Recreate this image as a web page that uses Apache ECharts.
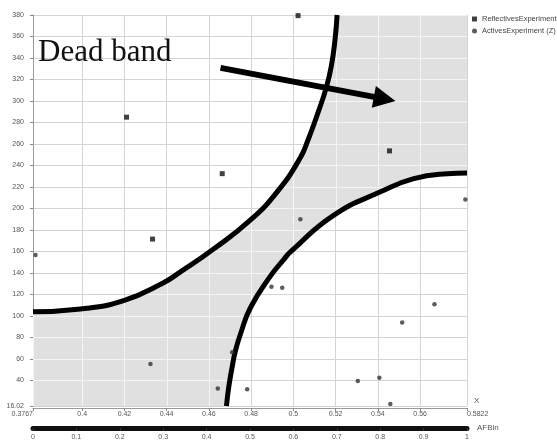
<!DOCTYPE html>
<html>
<head>
<meta charset="utf-8">
<script src="https://cdn.jsdelivr.net/npm/echarts@6/dist/echarts.min.js"></script>
<style>
html,body{margin:0;padding:0;background:#fff;}
#chart{width:557px;height:441px;}
</style>
</head>
<body>
<div id="chart"></div>
<script>
// ---- axis ticks ----
const xTickValues = [0.3767, 0.4, 0.42, 0.44, 0.46, 0.48, 0.5, 0.52, 0.54, 0.56, 0.5822];
const yTickValues = [16.02, 40, 60, 80, 100, 120, 140, 160, 180, 200, 220, 240, 260, 280, 300, 320, 340, 360, 380];
const afbinMin = 0, afbinMax = 1, afbinStep = 0.1;

// ---- dead band boundaries ----
const upperX = [0.3767, 0.3992, 0.4196, 0.4385, 0.4465, 0.4622, 0.4797, 0.4923, 0.5030, 0.5071, 0.5114, 0.5156, 0.5180, 0.5197, 0.5207];
const upperY = [103.7, 106.3, 114.1, 130.8, 140.9, 162.1, 189.2, 215.4, 246.1, 264.6, 287.7, 312.6, 332.9, 356.9, 380];
const lowerX = [0.4683, 0.4694, 0.4710, 0.4726, 0.4749, 0.4797, 0.4891, 0.4953, 0.4986, 0.5190, 0.5412, 0.5570, 0.5728, 0.5822];
const lowerY = [16.02, 33.8, 52.3, 67.7, 82.8, 107.7, 136.9, 152.0, 159.4, 193.5, 215.4, 227.7, 232.3, 233.0];

// ---- scatter series ----
const reflectivesX = [0.5022, 0.4210, 0.4663, 0.4333, 0.5455];
const reflectivesY = [379.4, 284.9, 232.3, 171.4, 253.5];
const activesX = [0.3779, 0.5033, 0.4896, 0.4947, 0.5668, 0.5515, 0.4710, 0.4642, 0.4781, 0.5305, 0.5407, 0.4323, 0.5459, 0.5814];
const activesY = [156.6, 189.8, 127.1, 126.1, 110.7, 93.8, 66.1, 32.3, 31.7, 39.4, 42.4, 55.1, 17.9, 208.3];

// ---- annotation ----
const arrowFrom = [0.4655, 330.8];
const arrowTo = [0.5432, 301.9];
const annotationText = 'Dead band';

const xMin = xTickValues[0], xMax = xTickValues[xTickValues.length - 1];
const yMin = yTickValues[0], yMax = yTickValues[yTickValues.length - 1];

const zip = (xs, ys) => xs.map((x, i) => [x, ys[i]]);
const upperPts = zip(upperX, upperY);
const lowerPts = zip(lowerX, lowerY);
const bandPolygon = upperPts
  .concat([[xMax, yMax]])
  .concat(lowerPts.slice().reverse())
  .concat([[xMin, yMin]]);

const bandColor = '#e0e0e0';
const bandLineColor = '#f4f4f4';
const gridLineColor = '#d4d4d4';
const labelFont = 'Liberation Sans';

function fmt(v, d) { return String(+(+v).toFixed(d)); }

function renderBand(params, api) {
  if (params.dataIndex !== 0) return;
  const pts = bandPolygon.map(p => api.coord(p));
  const lines = [];
  xTickValues.forEach(v => {
    const a = api.coord([v, yMin]), b = api.coord([v, yMax]);
    const x = Math.round(a[0]) + 0.5;
    lines.push({type: 'line', shape: {x1: x, y1: b[1], x2: x, y2: a[1]}, style: {stroke: bandLineColor, lineWidth: 1}});
  });
  yTickValues.forEach(v => {
    const a = api.coord([xMin, v]), b = api.coord([xMax, v]);
    const y = Math.round(a[1]) + 0.5;
    lines.push({type: 'line', shape: {x1: a[0], y1: y, x2: b[0], y2: y}, style: {stroke: bandLineColor, lineWidth: 1}});
  });
  return {
    type: 'group',
    children: [
      {type: 'polygon', shape: {points: pts}, style: {fill: bandColor}},
      {type: 'group', clipPath: {type: 'polygon', shape: {points: pts}}, children: lines}
    ]
  };
}

const chart = echarts.init(document.getElementById('chart'), null, {renderer: 'canvas'});
chart.setOption({
  animation: false,
  backgroundColor: '#fff',
  textStyle: {fontFamily: labelFont},
  grid: {left: 33, right: 90, top: 15, bottom: 32, containLabel: false},
  legend: {
    orient: 'vertical', left: 472, top: 15, padding: 0, itemGap: 4,
    itemWidth: 5, itemHeight: 5,
    textStyle: {fontSize: 7.5, color: '#444', fontFamily: labelFont},
    data: ['ReflectivesExperiment', 'ActivesExperiment (Z)']
  },
  graphic: [{
    type: 'text', left: 38, top: 37, z: 100,
    style: {text: annotationText, fontSize: 31, fontFamily: 'Liberation Serif', fill: '#111'}
  }],
  xAxis: [{
    type: 'value', min: xMin, max: xMax, position: 'bottom', offset: 2,
    name: 'X', nameLocation: 'end', nameGap: 7,
    nameTextStyle: {fontSize: 8, color: '#555', verticalAlign: 'bottom', padding: [0, 0, 3, 0]},
    axisLine: {show: true, lineStyle: {color: '#999', width: 1}},
    axisTick: {show: true, length: 3, customValues: xTickValues, lineStyle: {color: '#888'}},
    axisLabel: {
      customValues: xTickValues, fontSize: 7, color: '#555', margin: 3,
      alignMinLabel: 'right', alignMaxLabel: 'left',
      formatter: v => fmt(v, 4)
    },
    splitLine: {show: true, lineStyle: {color: gridLineColor, width: 1}}
  }, {
    type: 'value', min: afbinMin, max: afbinMax, interval: afbinStep, position: 'bottom', offset: 22,
    name: 'AFBin', nameLocation: 'end', nameGap: 10,
    nameTextStyle: {fontSize: 8, color: '#555'},
    axisLine: {show: true, lineStyle: {color: '#111', width: 5}},
    axisTick: {show: true, length: 3, lineStyle: {color: '#333'}},
    axisLabel: {fontSize: 7, color: '#555', margin: 6, formatter: v => fmt(v, 1)},
    splitLine: {show: false}
  }],
  yAxis: [{
    type: 'value', min: yMin, max: yMax,
    axisLine: {show: true, lineStyle: {color: '#999', width: 1}},
    axisTick: {show: true, length: 3, customValues: yTickValues, lineStyle: {color: '#888'}},
    axisLabel: {customValues: yTickValues, fontSize: 7, color: '#555', margin: 9, formatter: v => fmt(v, 2)},
    splitLine: {show: true, lineStyle: {color: gridLineColor, width: 1}}
  }],
  series: [{
    type: 'custom', name: 'band', xAxisIndex: 0, yAxisIndex: 0, z: 1,
    renderItem: renderBand, data: bandPolygon, silent: true
  }, {
    type: 'line', name: 'upperBound', xAxisIndex: 0, yAxisIndex: 0, z: 3,
    data: upperPts, symbol: 'none', smooth: 0.5,
    lineStyle: {color: '#000', width: 5},
    markLine: {
      silent: true, symbol: ['none', 'triangle'], symbolSize: [22, 22],
      label: {show: false},
      lineStyle: {color: '#000', width: 6, type: 'solid'},
      data: [[{coord: arrowFrom}, {coord: arrowTo}]]
    }
  }, {
    type: 'line', name: 'lowerBound', xAxisIndex: 0, yAxisIndex: 0, z: 3,
    data: lowerPts, symbol: 'none', smooth: 0.5,
    lineStyle: {color: '#000', width: 5}
  }, {
    type: 'scatter', name: 'ReflectivesExperiment', xAxisIndex: 0, yAxisIndex: 0, z: 4,
    symbol: 'rect', symbolSize: 5, itemStyle: {color: '#111'},
    data: zip(reflectivesX, reflectivesY)
  }, {
    type: 'scatter', name: 'ActivesExperiment (Z)', xAxisIndex: 0, yAxisIndex: 0, z: 4,
    symbol: 'circle', symbolSize: 4.5, itemStyle: {color: '#333'},
    data: zip(activesX, activesY)
  }]
});
</script>
</body>
</html>
